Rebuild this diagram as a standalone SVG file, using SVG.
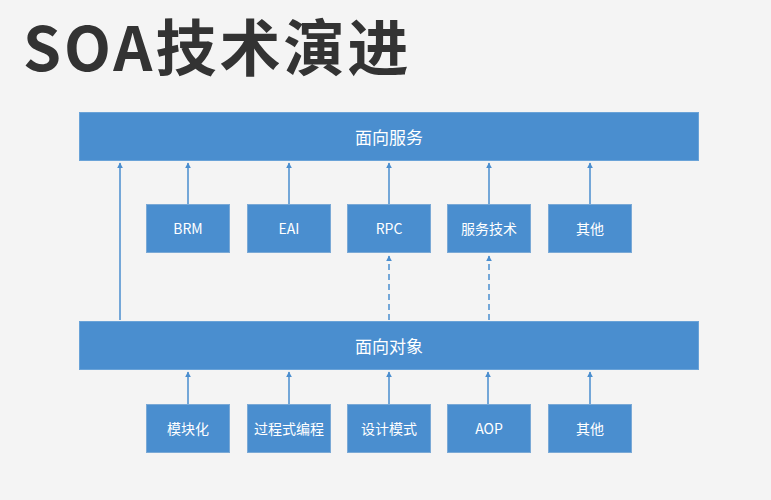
<svg xmlns="http://www.w3.org/2000/svg" width="771" height="500" viewBox="0 0 771 500">
<defs>
<style>
.bar{fill:#4a8ecf;stroke:#6aa3d8;stroke-width:1}
.box{fill:#4a8ecf;stroke:#7aa9d6;stroke-width:1}
.t{font-family:"Noto Sans CJK SC","Noto Sans",sans-serif;fill:#ffffff;text-anchor:middle;dominant-baseline:central}
.bt{font-size:17px}
.st{font-size:14px}
.ln{stroke:#4a8ecf;stroke-width:1.5;fill:none;marker-end:url(#ah)}
.dash{stroke-dasharray:6,4}
</style>
<marker id="ah" viewBox="0 0 10 10" refX="9" refY="5" markerWidth="6" markerHeight="6" markerUnits="userSpaceOnUse" orient="auto">
<path d="M0,0 L10,5 L0,10 z" fill="#4a8ecf"/>
</marker>
</defs>
<rect width="771" height="500" fill="#f4f4f4"/>
<text x="23" y="71" font-family="'Noto Sans CJK SC','Noto Sans',sans-serif" font-size="61" font-weight="bold" letter-spacing="3" fill="#333333">SOA技术演进</text>
<g id="connectors">
<line class="ln" x1="120" y1="320" x2="120" y2="163"/>
<line class="ln" x1="188" y1="204" x2="188" y2="163"/>
<line class="ln" x1="289" y1="204" x2="289" y2="163"/>
<line class="ln" x1="389" y1="204" x2="389" y2="163"/>
<line class="ln" x1="489" y1="204" x2="489" y2="163"/>
<line class="ln" x1="590" y1="204" x2="590" y2="163"/>
<line class="ln dash" x1="389" y1="320" x2="389" y2="256"/>
<line class="ln dash" x1="489" y1="320" x2="489" y2="256"/>
<line class="ln" x1="188" y1="404" x2="188" y2="372"/>
<line class="ln" x1="289" y1="404" x2="289" y2="372"/>
<line class="ln" x1="389" y1="404" x2="389" y2="372"/>
<line class="ln" x1="488" y1="404" x2="488" y2="372"/>
<line class="ln" x1="590" y1="404" x2="590" y2="372"/>
</g>
<g id="service"><rect class="bar" x="79.5" y="112.5" width="619" height="48"/><text class="t bt" x="389" y="136">面向服务</text></g>
<g id="brm"><rect class="box" x="146.5" y="204.5" width="83" height="48"/><text class="t st" x="188" y="228">BRM</text></g>
<g id="eai"><rect class="box" x="247.5" y="204.5" width="83" height="48"/><text class="t st" x="289" y="228">EAI</text></g>
<g id="rpc"><rect class="box" x="347.5" y="204.5" width="83" height="48"/><text class="t st" x="389" y="228">RPC</text></g>
<g id="svctech"><rect class="box" x="447.5" y="204.5" width="83" height="48"/><text class="t st" x="489" y="228">服务技术</text></g>
<g id="other1"><rect class="box" x="548.5" y="204.5" width="83" height="48"/><text class="t st" x="590" y="228">其他</text></g>
<g id="object"><rect class="bar" x="79.5" y="321.5" width="619" height="48"/><text class="t bt" x="389" y="345">面向对象</text></g>
<g id="modular"><rect class="box" x="146.5" y="404.5" width="83" height="48"/><text class="t st" x="188" y="428">模块化</text></g>
<g id="procedural"><rect class="box" x="247.5" y="404.5" width="83" height="48"/><text class="t st" x="289" y="428">过程式编程</text></g>
<g id="pattern"><rect class="box" x="347.5" y="404.5" width="83" height="48"/><text class="t st" x="389" y="428">设计模式</text></g>
<g id="aop"><rect class="box" x="447.5" y="404.5" width="83" height="48"/><text class="t st" x="489" y="428">AOP</text></g>
<g id="other2"><rect class="box" x="548.5" y="404.5" width="83" height="48"/><text class="t st" x="590" y="428">其他</text></g>
</svg>
